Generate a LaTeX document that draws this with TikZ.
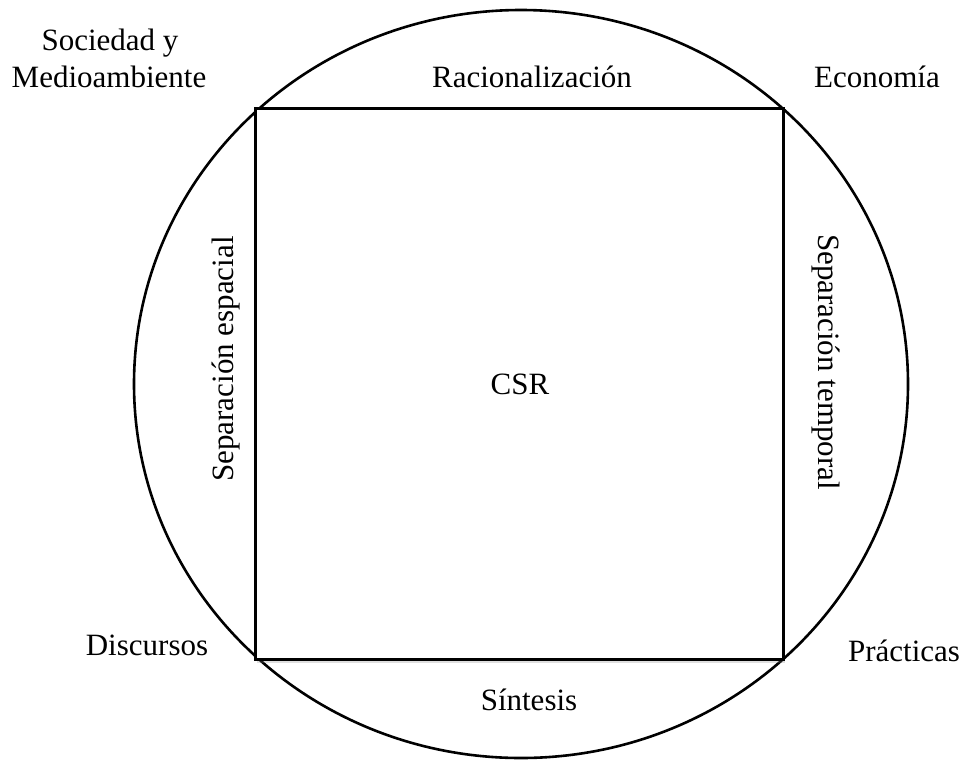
\documentclass[tikz,border=0pt]{standalone}
\usepackage{fontspec}
\setmainfont{Liberation Serif}
\usepackage{tikz}
\usetikzlibrary{shadows}
\tikzset{lbl/.style={anchor=base, inner sep=0pt, font=\fontsize{31}{37}\selectfont}}

\begin{document}
\begin{tikzpicture}[x=1pt, y=-1pt]
        \useasboundingbox (0,0) rectangle (965,761);
        % outer circle
        \draw[line width=2.6pt] (521,384) ellipse (387pt and 374pt);
        % square
        \draw[line width=3pt, fill=white,
              drop shadow={opacity=0.25, shadow xshift=2pt, shadow yshift=-4pt}]
              (255,108) rectangle (783,659);
        % corners
        \node[lbl] (soc) at (110,50) {Sociedad y};
        \node[lbl] (med) at (109,87) {Medioambiente};
        \node[lbl] (eco) at (877,87) {Economía};
        \node[lbl] (dis) at (147,655) {Discursos};
        \node[lbl] (pra) at (904,661) {Prácticas};
        % sides
        \node[lbl] (rac) at (532,87) {Racionalización};
        \node[lbl] (sin) at (529,710) {Síntesis};
        \node[lbl, rotate=90] (esp) at (233,359) {Separación espacial};
        \node[lbl, rotate=-90] (tem) at (818,362) {Separación temporal};
        % centre
        \node[lbl] (csr) at (520,394) {CSR};
    \end{tikzpicture}
\end{document}
